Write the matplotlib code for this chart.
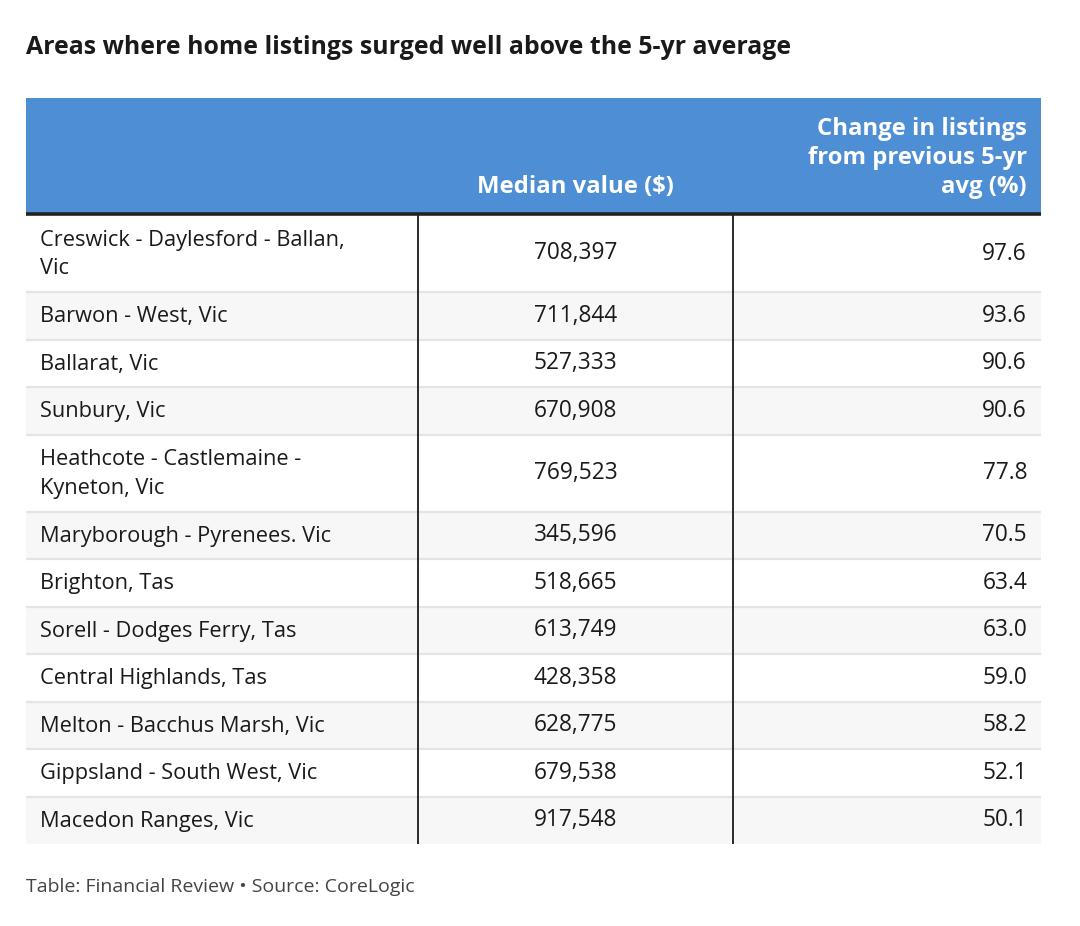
import matplotlib
matplotlib.use("Agg")
import matplotlib.pyplot as plt
from matplotlib.patches import Rectangle

plt.rcParams['font.family'] = ['Open Sans', 'DejaVu Sans']

title = "Areas where home listings surged well above the 5-yr average"
col_headers = ["", "Median value ($)", "Change in listings\nfrom previous 5-yr\navg (%)"]
areas = [
    "Creswick - Daylesford - Ballan,\nVic",
    "Barwon - West, Vic",
    "Ballarat, Vic",
    "Sunbury, Vic",
    "Heathcote - Castlemaine -\nKyneton, Vic",
    "Maryborough - Pyrenees. Vic",
    "Brighton, Tas",
    "Sorell - Dodges Ferry, Tas",
    "Central Highlands, Tas",
    "Melton - Bacchus Marsh, Vic",
    "Gippsland - South West, Vic",
    "Macedon Ranges, Vic",
]
median_values = [708397, 711844, 527333, 670908, 769523, 345596,
                 518665, 613749, 428358, 628775, 679538, 917548]
change_pct = [97.6, 93.6, 90.6, 90.6, 77.8, 70.5, 63.4, 63.0, 59.0, 58.2, 52.1, 50.1]
footer = "Table: Financial Review \u2022 Source: CoreLogic"

W, H = 1080, 926
fig = plt.figure(figsize=(W / 100, H / 100), dpi=100)
ax = fig.add_axes([0, 0, 1, 1])
ax.set_xlim(0, W)
ax.set_ylim(H, 0)
ax.axis("off")

left, right = 26, 1041
div1, div2 = 418, 733
hdr_top, hdr_bot = 98, 214
header_color = "#4e8ed4"
text_color = "#1a1a1a"
body_fs = 15.7
num_fs = 16.3
hdr_fs = 17.2

ax.text(left, 47, title, fontsize=17.9, fontweight="bold", color="#1a1a1a",
        va="center", ha="left")

ax.add_patch(Rectangle((left, hdr_top), right - left, hdr_bot - hdr_top,
                       facecolor=header_color, edgecolor="none"))
ax.text((div1 + div2) / 2, 187, col_headers[1], fontsize=hdr_fs, fontweight="bold",
        color="white", ha="center", va="center")
ax.text(1027, 158, col_headers[2], fontsize=hdr_fs, fontweight="bold",
        color="white", ha="right", va="center", linespacing=1.3)

single_h, double_h = 47.5, 77
y = hdr_bot + 1
for i, (area, mv, ch) in enumerate(zip(areas, median_values, change_pct)):
    h = double_h if "\n" in area else single_h
    bg = "#f7f7f7" if i % 2 == 1 else "white"
    ax.add_patch(Rectangle((left, y), right - left, h, facecolor=bg, edgecolor="none"))
    cy = y + h / 2
    ax.text(40, cy + 1, area, fontsize=body_fs, color=text_color, ha="left", va="center",
            linespacing=1.45)
    ax.text((div1 + div2) / 2, cy, f"{mv:,}", fontsize=num_fs, color=text_color,
            ha="center", va="center")
    ax.text(1027, cy, f"{ch:.1f}", fontsize=num_fs, color=text_color,
            ha="right", va="center")
    y += h
    if i < len(areas) - 1:
        ax.plot([left, right], [y, y], color="#e4e4e4", lw=1.6, solid_capstyle="butt")

table_bot = y
for xd in (div1, div2):
    ax.plot([xd, xd], [hdr_bot, table_bot], color="#1a1a1a", lw=1.3, solid_capstyle="butt")
ax.plot([left, right], [hdr_bot, hdr_bot], color="#222222", lw=2.6, solid_capstyle="butt")

ax.text(left, 887, footer, fontsize=14.0, color="#444444", ha="left", va="center")

fig.savefig("out.png", dpi=100, facecolor="white")
